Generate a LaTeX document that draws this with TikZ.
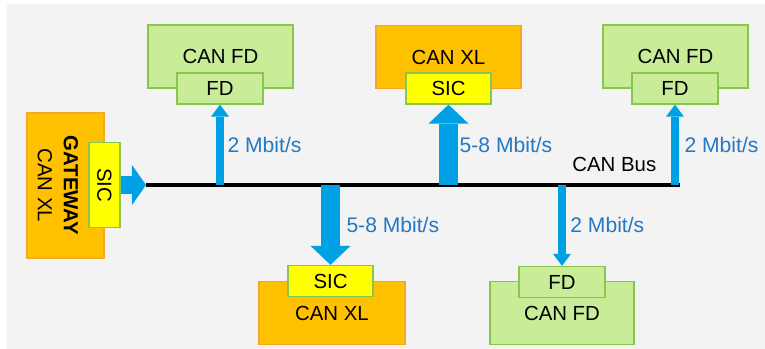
\documentclass[tikz,border=0pt]{standalone}
\usepackage{fontspec}
\setmainfont{Liberation Sans}
\usetikzlibrary{arrows.meta}

\definecolor{xlorange}{RGB}{255,192,0}
\definecolor{xlborder}{RGB}{245,168,40}
\definecolor{fdgreen}{RGB}{200,236,152}
\definecolor{fdborder}{RGB}{136,198,78}
\definecolor{sicyellow}{RGB}{255,255,0}
\definecolor{arrowblue}{RGB}{0,160,228}
\definecolor{rateblue}{RGB}{36,120,196}
\definecolor{panelgray}{RGB}{243,243,243}

\tikzset{
    box/.style={draw, line width=0.9pt, inner sep=0pt, font=\fontsize{14.5}{17}\selectfont},
    xlbox/.style={box, draw=xlborder, fill=xlorange, minimum width=3.625cm, minimum height=1.575cm},
    fdbox/.style={box, draw=fdborder, fill=fdgreen, minimum width=3.625cm, minimum height=1.575cm},
    fdport/.style={box, draw=fdborder, fill=fdgreen, minimum width=2.15cm, minimum height=0.775cm},
    sicport/.style={box, draw=fdborder, fill=sicyellow, minimum width=2.125cm, minimum height=0.775cm},
    rate/.style={text=rateblue, inner sep=0pt, outer sep=0pt, anchor=west, font=\fontsize{15}{18}\selectfont},
    thinarrow/.style={arrowblue, line width=0.2cm, -{Triangle[width=0.45cm, length=0.3cm, line width=0pt]}},
    bigarrow/.style={arrowblue, line width=0.475cm, -{Triangle[width=1cm, length=0.475cm, line width=0pt]}},
}

\begin{document}
\begin{tikzpicture}[x=0.025cm, y=-0.025cm]
    \pgfmathsetmacro{\busy}{185}
    \useasboundingbox (0,0) rectangle (765,349);
    % Draw background
    \fill[panelgray] (7,4) rectangle (765,349);

    % Draw the nodes on the bus
    \node[fdbox] (fdA) at (220.5,56.5) {CAN FD};
    \node[xlbox] (xlA) at (448.5,57) {CAN XL};
    \node[fdbox] (fdB) at (675.5,56.5) {CAN FD};
    \node[xlbox, minimum width=3.65cm] (xlB) at (332,313) {CAN XL};
    \node[fdbox, minimum width=3.6cm] (fdC) at (562,313) {CAN FD};
    \node[fdport] (fdpA) at (220,88.5) {FD};
    \node[sicport] (sicA) at (448.5,88.5) {SIC};
    \node[fdport] (fdpB) at (675,88.5) {FD};
    \node[sicport] (sicB) at (330.5,281) {SIC};
    \node[fdport] (fdpC) at (562,282) {FD};

    % Draw the gateway
    \node[xlbox, minimum width=1.925cm, minimum height=3.625cm] (gw) at (65.5,185.5) {};
    \node[rotate=-90, align=center, inner sep=0pt, font=\fontsize{14.5}{18.5}\selectfont] (gwlabel) at (58,185.5) {\textbf{GATEWAY}\\CAN XL};
    \node[sicport, minimum width=0.775cm, minimum height=2.125cm] (gwsic) at (104.5,185) {\rotatebox{-90}{SIC}};

    % Define points
    \coordinate (busL) at (146,\busy);
    \coordinate (busR) at (680,\busy);
    \foreach \n/\t in {fdpA/tapA, sicA/tapB, fdpB/tapC} {
        \coordinate (\t) at (\n.south |- busL);
    }
    \foreach \n/\t in {sicB/tapD, fdpC/tapE} {
        \coordinate (\t) at (\n.north |- busL);
    }

    % Draw the bus and the links
    \draw[arrowblue, line width=0.45cm, -{Triangle[width=1cm, length=0.35cm, line width=0pt]}] (gwsic.east) -- (busL);
    \draw[line width=2.2pt] (busL) -- (busR) node[pos=0.877, above=0.3cm, inner sep=0pt, font=\fontsize{14.5}{17}\selectfont] (buslabel) {CAN Bus};
    \draw[thinarrow] (tapA) -- (fdpA.south) node[rate, midway, xshift=0.19cm] {2 Mbit/s};
    \draw[bigarrow] (tapB) -- (sicA.south) node[rate, midway, xshift=0.28cm] {5-8 Mbit/s};
    \draw[thinarrow] (tapC) -- (fdpB.south) node[rate, midway, xshift=0.24cm] {2 Mbit/s};
    \draw[bigarrow] (tapD) -- (sicB.north) node[rate, midway, xshift=0.4cm] {5-8 Mbit/s};
    \draw[thinarrow] (tapE) -- (fdpC.north) node[rate, midway, xshift=0.21cm] {2 Mbit/s};
\end{tikzpicture}
\end{document}
